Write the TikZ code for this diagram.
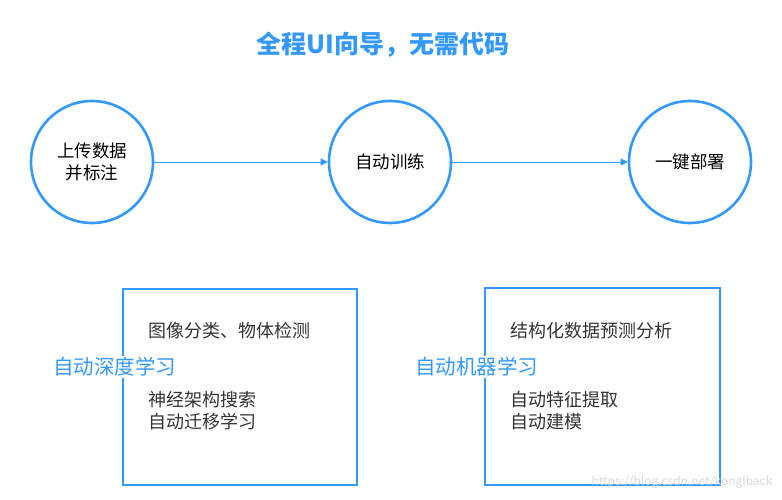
\documentclass[tikz,border=0pt]{standalone}
\usepackage{fontspec}
\setmainfont{Noto Sans CJK SC}
\usetikzlibrary{arrows.meta}
\definecolor{bl}{RGB}{51,153,255}
\begin{document}
\begin{tikzpicture}[x=1pt,y=-1pt,
 circ/.style={circle,draw=bl,line width=2.6pt,minimum size=122pt,inner sep=0pt,font=\fontsize{17.5}{22}\selectfont,align=center},
 box/.style={draw=bl,line width=2.4pt},
 txt/.style={anchor=west,font=\fontsize{18}{22}\selectfont,text=black!80,align=left},
 lab/.style={anchor=west,fill=white,inner sep=1pt,font=\fontsize{20.5}{24}\selectfont,text=bl},
 arr/.style={draw=bl,line width=0.8pt,-{Triangle[length=7pt,width=7pt]}}]
\useasboundingbox (0,0) rectangle (782,500);
\node[font=\bfseries\fontsize{25}{28}\selectfont,text=bl] (title) at (383,45) {全程UI向导，无需代码};
\node[circ] (c1) at (92,162) {上传数据\\并标注};
\node[circ] (c2) at (390,162) {自动训练};
\node[circ] (c3) at (690,162) {一键部署};
\draw[arr] (c1) -- (c2);
\draw[arr] (c2) -- (c3);
\draw[box] (123,289) rectangle (357,485) coordinate (b1);
\draw[box] (485,288) rectangle (720,485) coordinate (b2);
\node[txt] (t1) at (145,331) {图像分类、物体检测};
\node[txt] (t2) at (145,411) {神经架构搜索\\自动迁移学习};
\node[lab] (l1) at (52,367) {自动深度学习};
\node[txt] (t3) at (507,331) {结构化数据预测分析};
\node[txt] (t4) at (507,411) {自动特征提取\\自动建模};
\node[lab] (l2) at (414,367) {自动机器学习};
\node[anchor=east,text=black!15,font=\fontsize{12}{14}\selectfont] (wm) at (776,482) {https://blog.csdn.net/konglback};
\end{tikzpicture}
\end{document}
